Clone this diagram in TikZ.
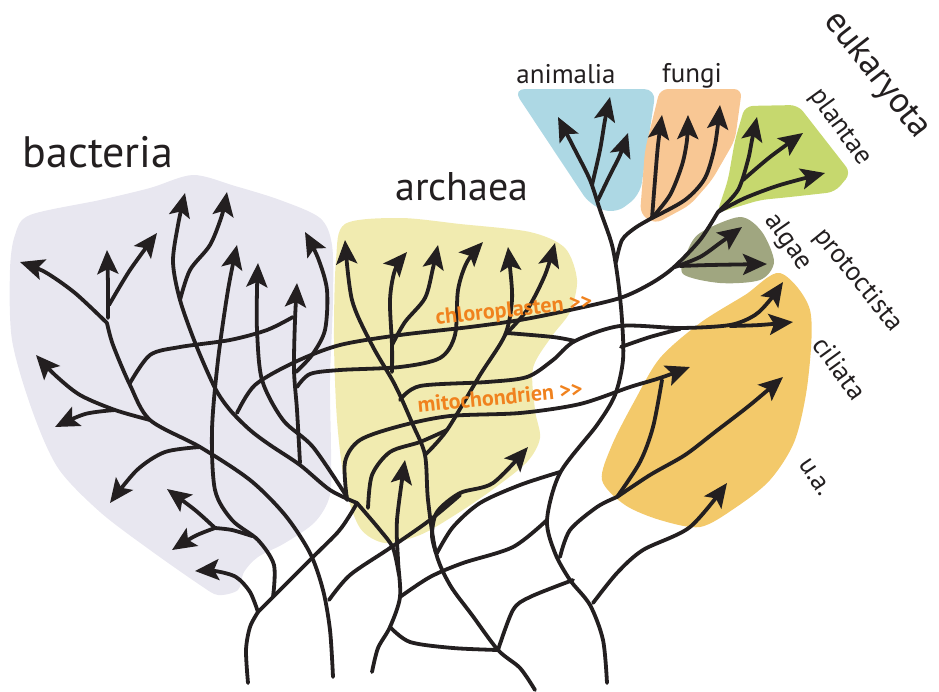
\documentclass[tikz,border=0pt]{standalone}
\usepackage{fontspec}
\setmainfont{PT Sans}
\usetikzlibrary{arrows.meta}
\definecolor{ink}{HTML}{231F20}
\definecolor{cbact}{HTML}{E8E7F0}
\definecolor{carch}{HTML}{F1EBB0}
\definecolor{canim}{HTML}{ADD8E4}
\definecolor{cfung}{HTML}{F8C794}
\definecolor{cplant}{HTML}{C6D86E}
\definecolor{calg}{HTML}{A0A680}
\definecolor{ccil}{HTML}{F3C96A}
\definecolor{corg}{HTML}{F0821E}
\begin{document}
\begin{tikzpicture}[x=1pt,y=-1pt,
  br/.style={line width=3.8pt, draw=ink, line cap=round, line join=round},
  ar/.style={br, -{Stealth[length=24pt,width=21pt,inset=5pt]}},
  big/.style={font=\fontsize{40}{44}\selectfont, text=ink, inner sep=0pt},
  mid/.style={font=\fontsize{27}{30}\selectfont, text=ink, inner sep=0pt},
  org/.style={font=\fontsize{22}{24}\selectfont\bfseries, text=corg, inner sep=0pt}]
\useasboundingbox (0,0) rectangle (939,691);
% ---- blobs
\fill[cbact] plot[smooth cycle] coordinates {(30,215) (100,200) (150,188) (193,175) (235,186) (280,200) (320,218) (332,245) (333,300) (330,380) (331,450) (330,495) (315,522) (285,543) (258,557) (244,572) (238,590) (218,595) (200,585) (150,550) (100,512) (58,468) (32,410) (12,340) (10,270) (15,235)};
\fill[carch] plot[smooth cycle] coordinates {(345,224) (400,218) (460,224) (530,232) (565,248) (577,280) (570,312) (552,336) (533,368) (535,410) (540,438) (527,462) (492,490) (455,515) (420,535) (385,543) (360,528) (345,485) (337,420) (334,340) (336,260)};
\fill[canim, rounded corners=12pt] (513,89) -- (656,89) -- (640,195) -- (615,214) -- (590,205) -- cycle;
\fill[cfung, rounded corners=8pt] (660,89) -- (742,89) -- (735,140) -- (712,180) -- (690,205) -- (655,224) -- (640,214) -- (645,150) -- cycle;
\fill[cplant, rounded corners=8pt] (745,106) -- (798,105) -- (851,173) -- (835,192) -- (790,197) -- (760,200) -- (717,213) -- (728,180) -- (735,140) -- cycle;
\fill[calg] plot[smooth cycle] coordinates {(700,233) (740,217) (762,232) (774,262) (760,280) (720,283) (683,274) (687,252)};
\fill[ccil] plot[smooth cycle] coordinates {(780,273) (810,310) (808,380) (795,440) (770,480) (735,508) (700,527) (660,520) (625,505) (602,480) (612,445) (635,400) (660,358) (700,323) (745,295)};
% ---- bacteria
\draw[br] plot[smooth] coordinates {(248,683) (246,650) (250,627) (258,612)};
\draw[ar] plot[smooth] coordinates {(258,612) (250,592) (236,577) (215,571) (195,571)};
\draw[br] plot[smooth] coordinates {(258,612) (273,597) (313,557) (338,532) (350,515) (357,503)};
\draw[ar] plot[smooth] coordinates {(273,597) (274,565) (258,540) (232,520) (215,490) (212,430) (218,360) (228,290) (237,245)};
\draw[br] plot[smooth] coordinates {(252,536) (232,530) (215,528)};
\draw[ar] plot[smooth] coordinates {(215,528) (195,510) (167,489)};
\draw[ar] plot[smooth] coordinates {(215,528) (195,536) (172,550)};
\draw[br] plot[smooth] coordinates {(333,677) (330,630) (323,590) (310,553) (285,515) (250,480) (200,447) (150,420) (130,385) (113,345) (107,323)};
\draw[ar] plot[smooth] coordinates {(107,323) (75,293) (45,272) (20,262)};
\draw[ar] plot[smooth] coordinates {(108,318) (108,285) (107,250)};
\draw[ar] plot[smooth] coordinates {(109,305) (130,270) (157,233)};
\draw[ar] plot[smooth] coordinates {(150,420) (115,410) (80,395) (55,375) (36,355)};
\draw[ar] plot[smooth] coordinates {(115,410) (85,414) (55,427)};
\draw[ar] plot[smooth] coordinates {(200,447) (165,452) (137,470) (110,503)};
\draw[ar] plot[smooth] coordinates {(357,503) (330,490) (300,465) (270,445) (250,430) (230,410) (215,388) (196,345) (180,300) (173,262) (178,225) (185,193)};
\draw[ar] plot[smooth] coordinates {(180,300) (190,270) (210,245) (222,215) (227,192)};
\draw[br] plot[smooth] coordinates {(130,383) (150,355) (180,347) (230,340) (267,330) (293,317)};
\draw[ar] plot[smooth] coordinates {(300,463) (297,410) (294,370) (295,320) (297,283)};
\draw[ar] plot[smooth] coordinates {(296,372) (312,355) (325,330) (327,290) (318,258) (305,232)};
\draw[ar] plot[smooth] coordinates {(347,497) (313,447) (283,420) (262,380) (257,330) (257,290) (258,263)};
\draw[ar] plot[smooth] coordinates {(297,387) (310,374) (340,370) (400,367) (440,358) (455,335) (458,290) (467,262) (483,242)};
\draw[br] plot[smooth] coordinates {(237,413) (255,385) (295,362) (340,345) (400,335) (470,327) (520,320) (570,310) (620,298) (650,284) (673,268) (700,240) (718,212)};
% ---- archaea
\draw[ar] plot[smooth] coordinates {(535,690) (520,668) (498,650) (472,615) (450,585) (436,553) (428,500) (425,455) (413,425) (395,385) (372,345) (352,300) (345,240)};
\draw[ar] plot[smooth] coordinates {(392,372) (392,345) (390,300) (395,270) (407,252)};
\draw[ar] plot[smooth] coordinates {(392,345) (405,322) (425,298) (433,268) (438,245)};
\draw[ar] plot[smooth] coordinates {(425,455) (447,430) (480,375) (505,335) (512,300) (510,267) (508,247)};
\draw[ar] plot[smooth] coordinates {(505,335) (527,310) (545,275) (555,243)};
\draw[ar] plot[smooth] coordinates {(400,400) (420,386) (487,382) (527,377) (553,360) (575,341) (620,326) (680,328) (730,325) (755,315) (770,300) (783,282)};
\draw[ar] plot[smooth] coordinates {(730,326) (760,325) (793,322)};
\draw[br] plot[smooth] coordinates {(507,333) (553,337) (575,341)};
\draw[br] plot[smooth] coordinates {(621,347) (650,337) (680,329)};
\draw[ar] plot[smooth] coordinates {(347,500) (345,462) (360,440) (400,426) (450,416) (520,413) (580,404) (630,387) (660,378) (690,367)};
\draw[br] plot[smooth] coordinates {(617,497) (640,462) (653,427) (662,380)};
\draw[br] plot[smooth] coordinates {(560,557) (570,530) (597,507) (617,497)};
\draw[ar] plot[smooth] coordinates {(617,497) (650,475) (685,455) (715,432) (750,405) (783,377)};
\draw[ar] plot[smooth] coordinates {(593,603) (617,573) (643,550) (690,527) (727,483)};
% ---- eukaryote trunk
\draw[ar] plot[smooth] coordinates {(607,683) (603,640) (590,605) (570,580) (555,553) (547,520) (560,473) (597,425) (615,395) (623,360) (622,320) (618,280) (612,245) (600,210) (590,180) (575,150) (558,117)};
\draw[ar] plot[smooth] coordinates {(592,185) (600,150) (605,120) (610,97)};
\draw[ar] plot[smooth] coordinates {(598,200) (610,175) (620,155) (628,133)};
\draw[br] plot[smooth] coordinates {(616,262) (622,240) (635,228) (652,218)};
\draw[ar] plot[smooth] coordinates {(652,218) (655,180) (658,145) (662,115)};
\draw[ar] plot[smooth] coordinates {(652,218) (670,195) (682,165) (687,140) (688,115)};
\draw[ar] plot[smooth] coordinates {(652,218) (685,200) (705,178) (715,145) (720,105)};
\draw[ar] plot[smooth] coordinates {(718,212) (738,190) (748,160) (752,140) (757,117)};
\draw[ar] plot[smooth] coordinates {(743,180) (770,157) (803,133)};
\draw[ar] plot[smooth] coordinates {(718,212) (745,198) (780,185) (825,173)};
\draw[ar] plot[smooth] coordinates {(675,267) (700,257) (720,243) (742,227)};
\draw[ar] plot[smooth] coordinates {(680,266) (710,265) (767,264)};
% ---- lower web
\draw[br] plot[smooth] coordinates {(498,650) (513,610) (530,597) (573,580)};
\draw[br] plot[smooth] coordinates {(400,597) (430,577) (463,563) (513,547) (547,520)};
\draw[ar] plot[smooth] coordinates {(372,672) (378,648) (390,627) (400,597) (398,560) (397,520) (405,460)};
\draw[br] plot[smooth] coordinates {(390,627) (410,642) (453,648) (498,650)};
\draw[br] plot[smooth] coordinates {(357,503) (380,530) (393,548) (399,575)};
\draw[br] plot[smooth] coordinates {(560,472) (520,485) (480,503) (453,527) (437,553)};
\draw[ar] plot[smooth] coordinates {(436,553) (432,535) (437,512) (460,493) (493,483) (528,447)};
\draw[br] plot[smooth] coordinates {(329,600) (350,575) (390,548) (430,520) (460,495)};
\draw[br] plot[smooth] coordinates {(368,508) (372,475) (390,452) (420,442) (447,430)};
% ---- labels
\node[big, font=\fontsize{44}{48}\selectfont] (lbact) at (98,152) {bacteria};
\node[big] (larch) at (462,187) {archaea};
\node[mid] (lanim) at (566,74) {animalia};
\node[mid] (lfung) at (692,76) {fungi};
\node[big, font=\fontsize{36}{40}\selectfont, rotate=-52] (leuk) at (877,75) {eukaryota};
\node[mid, rotate=-54] (lplant) at (840,127) {plantae};
\node[mid, rotate=-55] (lalg) at (788,242) {algae};
\node[mid, rotate=-51] (lprot) at (858,280) {protoctista};
\node[mid, rotate=-54] (lcil) at (840,368) {ciliata};
\node[mid, rotate=-56] (lua) at (815,477) {u.a.};
\node[org, rotate=6] (lchl) at (514,311) {chloroplasten >{}>};
\node[org, rotate=5.5] (lmit) at (500,397) {mitochondrien >{}>};
\end{tikzpicture}
\end{document}
